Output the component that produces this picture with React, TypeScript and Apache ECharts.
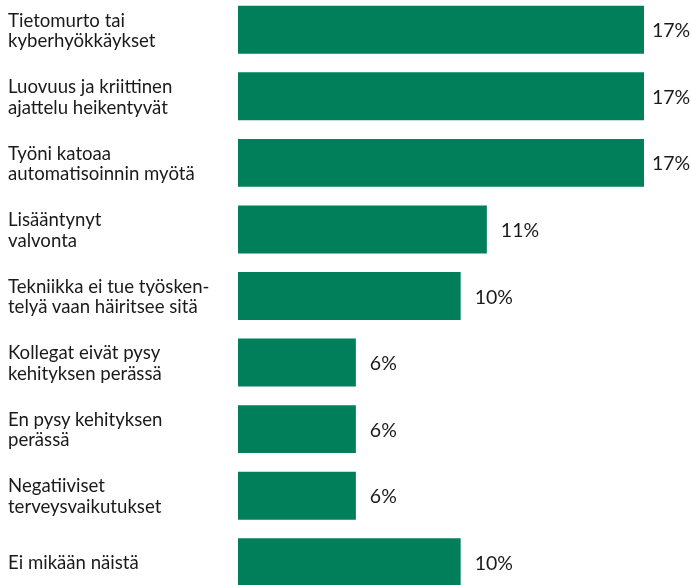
import React, { useEffect, useRef } from "react";
import * as echarts from "echarts";

const categories = [
  "Tietomurto tai\nkyberhyökkäykset",
  "Luovuus ja kriittinen\najattelu heikentyvät",
  "Työni katoaa\nautomatisoinnin myötä",
  "Lisääntynyt\nvalvonta",
  "Tekniikka ei tue työsken-\ntelyä vaan häiritsee sitä",
  "Kollegat eivät pysy\nkehityksen perässä",
  "En pysy kehityksen\nperässä",
  "Negatiiviset\nterveysvaikutukset",
  "Ei mikään näistä",
];
const values = [17, 17, 17, 11, 10, 6, 6, 6, 10];

export default function App() {
  const ref = useRef<HTMLDivElement>(null);
  useEffect(() => {
    if (!ref.current) return;
    const chart = echarts.init(ref.current, null, { renderer: "svg" });
    const maxV = Math.max(...values);
    chart.setOption({
      animation: false,
      grid: {
        left: 238,
        right: 47,
        top: -3.5,
        bottom: -10.5,
        outerBoundsMode: "none",
        containLabel: false,
      },
      xAxis: {
        type: "value",
        min: 1.5,
        max: 17,
        show: false,
      },
      yAxis: {
        type: "category",
        data: categories,
        inverse: true,
        axisLine: { show: false },
        axisTick: { show: false },
        splitLine: { show: false },
        axisLabel: {
          align: "left",
          margin: 230,
          fontFamily: "Lato",
          fontSize: 18.6,
          lineHeight: 20.5,
          color: "#1a1a1a",
        },
      },
      series: [
        {
          type: "bar",
          data: values.map((v) => ({
            value: v,
            label: { distance: v === maxV ? 8 : 14 },
          })),
          barCategoryGap: "28%",
          itemStyle: { color: "#007f5a" },
          label: {
            show: true,
            position: "right",
            formatter: "{c}%",
            fontFamily: "Lato",
            fontSize: 19.5,
            color: "#1a1a1a",
          },
        },
      ],
    });
    return () => chart.dispose();
  }, []);
  return (
    <div
      ref={ref}
      style={{ position: "fixed", left: 0, top: 0, width: 691, height: 585 }}
    />
  );
}
